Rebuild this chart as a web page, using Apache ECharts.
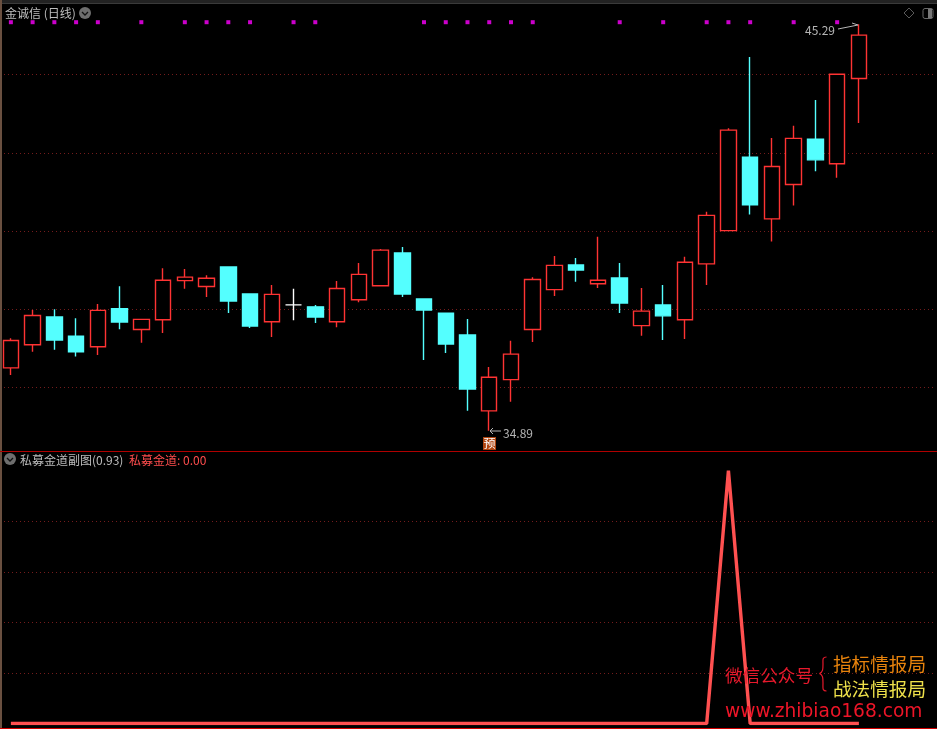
<!DOCTYPE html>
<html>
<head>
<meta charset="utf-8">
<style>html,body{margin:0;padding:0;background:#000}#c{width:937px;height:729px}</style>
<script src="https://cdn.jsdelivr.net/npm/echarts@6/dist/echarts.min.js"></script>
</head>
<body>
<div id="c"></div>
<script>
const opens  = [36.50,37.09,37.80,37.31,37.04,38.01,37.48,37.73,38.73,38.58,39.08,38.39,37.68,38.11,38.06,37.68,38.24,38.60,39.44,38.26,37.90,37.34,35.40,36.20,37.48,38.50,39.13,38.65,38.80,37.58,38.11,37.73,39.16,40.01,41.89,40.31,41.19,42.35,41.72,43.90];
const closes = [37.20,37.84,37.21,36.91,37.97,37.67,37.74,38.74,38.82,38.79,38.21,37.57,38.38,38.11,37.80,38.53,38.89,39.51,38.39,37.98,37.11,35.96,36.26,36.85,38.76,39.12,39.00,38.74,38.16,37.95,37.83,39.20,40.40,42.58,40.67,41.65,42.37,41.82,44.01,45.01];
const lows   = [36.32,36.91,36.96,36.79,36.83,37.49,37.14,37.39,38.52,38.31,37.90,37.52,37.29,37.72,37.65,37.54,38.18,38.60,38.31,36.70,36.88,35.40,34.89,35.63,37.16,38.34,38.70,38.54,37.90,37.32,37.21,37.24,38.62,40.01,40.42,39.73,40.65,41.53,41.36,42.76];
const highs  = [37.26,37.98,38.00,37.77,38.13,38.59,37.74,39.05,39.03,38.87,39.08,38.39,38.62,38.52,38.11,38.72,39.18,39.54,39.59,38.26,37.90,37.75,36.52,37.19,38.82,39.36,39.31,39.85,39.18,38.54,38.62,39.34,40.49,42.63,44.45,42.38,42.69,43.35,44.01,45.29];
const signalFlags = [1,1,1,1,1,0,1,0,1,1,1,1,0,1,1,0,0,0,0,1,1,1,1,1,1,0,0,0,1,0,1,0,1,1,1,0,1,0,1,0];
const signalLevel = 45.34;
const indicator = [0,0,0,0,0,0,0,0,0,0,0,0,0,0,0,0,0,0,0,0,0,0,0,0,0,0,0,0,0,0,0,0,0,100,0,0,0,0,0,0];
const dojiIndex = 13;

const RED = '#ff3333', CYAN = '#54ffff', GRID = '#741c1c';
const categories = opens.map((_, i) => String(i + 1)).concat(['', '', '']);
const candleData = opens.map((o, i) => {
  const item = { value: [o, closes[i], lows[i], highs[i]] };
  if (i === dojiIndex) item.itemStyle = { color: '#fff', color0: '#fff', borderColor: '#fff', borderColor0: '#fff' };
  return item;
});
const signalData = signalFlags.map((f, i) => f ? [i, signalLevel] : null).filter(Boolean);

const SANS = '"Noto Sans CJK SC","Noto Sans",sans-serif';
const txt = (x, y, text, fill, size, extra) => ({
  type: 'text', x, y, z: 50, silent: true,
  style: Object.assign({ text, fill, font: size + 'px ' + SANS, textVerticalAlign: 'middle' }, extra || {})
});
const chevron = (cx, cy) => [
  { type: 'circle', z: 50, shape: { cx, cy, r: 6 }, style: { fill: '#6e6e6e' } },
  { type: 'polyline', z: 51, shape: { points: [[cx - 3, cy - 1], [cx, cy + 2], [cx + 3, cy - 1]] }, style: { stroke: '#111', lineWidth: 1.3, fill: null } }
];
const curve = (x1, y1, cx1, cy1, cx2, cy2, x2, y2) => ({
  type: 'bezierCurve', z: 50,
  shape: { x1, y1, cpx1: cx1, cpy1: cy1, cpx2: cx2, cpy2: cy2, x2, y2 },
  style: { stroke: '#e8192c', lineWidth: 1.2, fill: null }
});
const graphics = [
  { type: 'rect', z: 40, shape: { x: 0, y: 0, width: 937, height: 3 }, style: { fill: '#222' } },
  { type: 'rect', z: 40, shape: { x: 0, y: 3, width: 937, height: 1 }, style: { fill: '#3a3a3a' } },
  { type: 'rect', z: 40, shape: { x: 0, y: 0, width: 2, height: 729 }, style: { fill: '#6a5040' } },
  { type: 'rect', z: 40, shape: { x: 0, y: 451, width: 937, height: 1 }, style: { fill: '#b00000' } },
  { type: 'rect', z: 40, shape: { x: 0, y: 728, width: 937, height: 1 }, style: { fill: '#d00000' } },
  txt(5, 13, '金诚信 (日线)', '#bdbdbd', 12),
  ...chevron(85, 13),
  ...chevron(10, 459),
  { type: 'polygon', z: 50, shape: { points: [[909, 8], [914, 13], [909, 18], [904, 13]] }, style: { fill: null, stroke: '#5a5a5a', lineWidth: 1 } },
  { type: 'rect', z: 50, shape: { x: 923, y: 8.5, width: 10, height: 10, r: 2 }, style: { fill: null, stroke: '#6a6a6a', lineWidth: 1 } },
  { type: 'rect', z: 50, shape: { x: 928, y: 9, width: 4, height: 9 }, style: { fill: '#777' } },
  txt(20, 460, '私募金道副图(0.93)', '#bdbdbd', 12),
  txt(129, 460, '私募金道: 0.00', '#ff4d4d', 12),
  txt(805, 30, '45.29', '#b5b5b5', 12),
  { type: 'polyline', z: 50, shape: { points: [[838, 29], [858, 25], [852, 23]] }, style: { stroke: '#b5b5b5', lineWidth: 1, fill: null } },
  { type: 'polyline', z: 50, shape: { points: [[501, 431], [490, 431]] }, style: { stroke: '#b5b5b5', lineWidth: 1, fill: null } },
  { type: 'polyline', z: 50, shape: { points: [[493, 428], [490, 431], [493, 434]] }, style: { stroke: '#b5b5b5', lineWidth: 1, fill: null } },
  txt(503, 433, '34.89', '#b5b5b5', 12),
  { type: 'rect', z: 50, shape: { x: 483, y: 437, width: 13, height: 13 }, style: { fill: '#b0440f' } },
  txt(483.5, 443.5, '预', '#ffffff', 12),
  txt(725, 675, '微信公众号', '#e8192c', 17.6),
  txt(833, 664, '指标情报局', '#e8830c', 18.6),
  txt(833, 689, '战法情报局', '#eee04a', 18.6),
  txt(725, 712, 'www.zhibiao168.com', '#ee1528', 18.6, { font: '18.6px "DejaVu Sans",sans-serif' }),
  curve(826.5, 657, 822, 657, 823, 660, 823, 664),
  curve(823, 664, 823, 669, 823, 672, 819.5, 673.5),
  curve(819.5, 673.5, 823, 675, 823, 678, 823, 683),
  curve(823, 683, 823, 688, 822, 691, 826.5, 691)
];

const hiddenAxisBits = { axisLine: { show: false }, axisTick: { show: false }, axisLabel: { show: false } };
const chart = echarts.init(document.getElementById('c'), null, { renderer: 'canvas' });
chart.setOption({
  backgroundColor: '#000',
  animation: false,
  tooltip: { show: false },
  legend: { show: false },
  grid: [
    { left: 0, top: 15.95, width: 935, height: 449.65 },
    { left: 0, top: 470.75, width: 935, height: 252.75 }
  ],
  xAxis: [
    Object.assign({ type: 'category', gridIndex: 0, data: categories, boundaryGap: true, splitLine: { show: false } }, hiddenAxisBits),
    Object.assign({ type: 'category', gridIndex: 1, data: categories, boundaryGap: true, splitLine: { show: false } }, hiddenAxisBits)
  ],
  yAxis: [
    Object.assign({ type: 'value', gridIndex: 0, min: 34, max: 45.5, interval: 2,
      splitLine: { show: true, showMinLine: false, showMaxLine: false, lineStyle: { color: GRID, width: 1, type: [1, 3] } } }, hiddenAxisBits),
    Object.assign({ type: 'value', gridIndex: 1, min: 0, max: 100, interval: 20,
      splitLine: { show: true, showMinLine: false, showMaxLine: false, lineStyle: { color: GRID, width: 1, type: [1, 3] } } }, hiddenAxisBits)
  ],
  series: [
    { type: 'candlestick', xAxisIndex: 0, yAxisIndex: 0, barWidth: 16, data: candleData,
      itemStyle: { color: '#000', color0: CYAN, borderColor: RED, borderColor0: CYAN, borderWidth: 1.4 } },
    { type: 'scatter', xAxisIndex: 0, yAxisIndex: 0, symbol: 'rect', symbolSize: 4, data: signalData, itemStyle: { color: '#ff00ff' } },
    { type: 'line', xAxisIndex: 1, yAxisIndex: 1, data: indicator, symbol: 'none', lineStyle: { color: '#ff5050', width: 3.4 }, itemStyle: { color: '#ff5050' } }
  ],
  graphic: graphics
});
</script>
</body>
</html>
